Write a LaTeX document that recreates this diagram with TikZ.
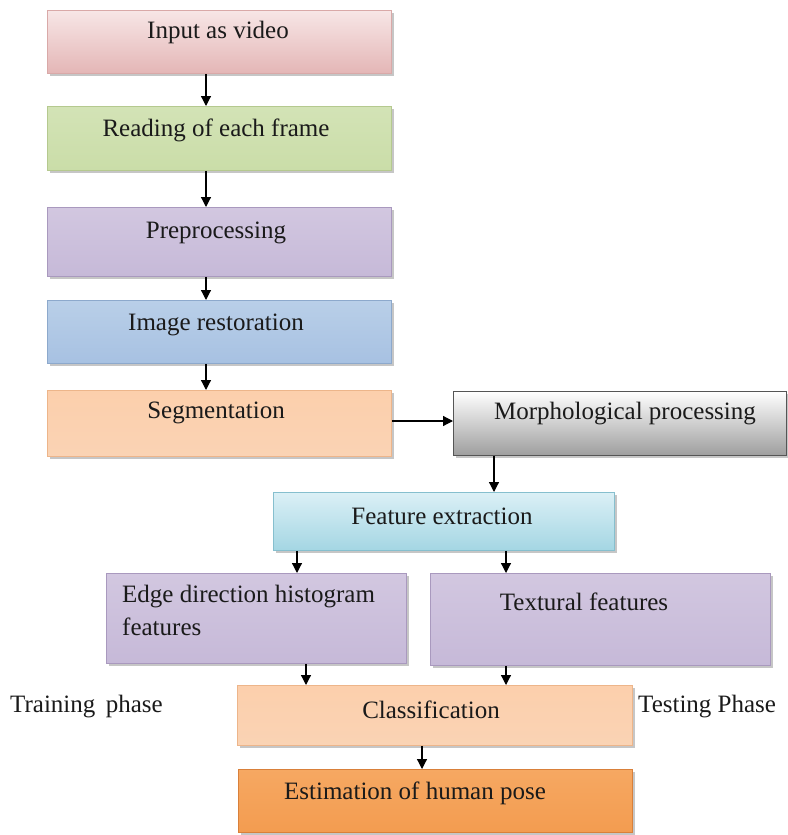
\documentclass[tikz,border=0pt]{standalone}
\usepackage{fontspec}
\setmainfont{Liberation Serif}
\newfontfamily\boxfont{Liberation Serif}
\usetikzlibrary{shadows,arrows.meta,calc}
\definecolor{pinkA}{HTML}{F7E6E6}\definecolor{pinkB}{HTML}{E4B6B6}\definecolor{pinkD}{HTML}{D9A9A8}
\definecolor{greenA}{HTML}{D3E3B6}\definecolor{greenM}{HTML}{F0F5E6}\definecolor{greenB}{HTML}{CADDA8}\definecolor{greenD}{HTML}{B5C98F}
\definecolor{purA}{HTML}{D2C7E0}\definecolor{purM}{HTML}{F1EDF6}\definecolor{purB}{HTML}{C6B9D8}\definecolor{purD}{HTML}{A999BE}
\definecolor{bluA}{HTML}{B9CFE8}\definecolor{bluM}{HTML}{E5EDF7}\definecolor{bluB}{HTML}{A7C1E2}\definecolor{bluD}{HTML}{8DA9CC}
\definecolor{orA}{HTML}{FCCFAC}\definecolor{orM}{HTML}{FEEDE0}\definecolor{orB}{HTML}{FAD3B4}\definecolor{orD}{HTML}{EDB58A}
\definecolor{grA}{HTML}{FFFFFF}\definecolor{grB}{HTML}{9E9E9E}\definecolor{grD}{HTML}{555555}
\definecolor{cyA}{HTML}{DBF0F6}\definecolor{cyM}{HTML}{E6F4F8}\definecolor{cyB}{HTML}{A4D6E3}\definecolor{cyD}{HTML}{86BFCE}
\definecolor{eoA}{HTML}{F6A862}\definecolor{eoM}{HTML}{FBD6B6}\definecolor{eoB}{HTML}{F39C50}\definecolor{eoD}{HTML}{D9803A}
\definecolor{txtc}{HTML}{1A1A1A}
\tikzset{
  box/.style={rectangle, anchor=north west, inner sep=0pt, line width=0.8bp,
    drop shadow={shadow xshift=2.5bp, shadow yshift=-3bp, fill=black!50, opacity=0.45}},
  pinkbox/.style={box, draw=pinkD, top color=pinkA, bottom color=pinkB},
  greenbox/.style={box, draw=greenD, top color=greenA, middle color=greenM, bottom color=greenB},
  purbox/.style={box, draw=purD, top color=purA, middle color=purM, bottom color=purB},
  blubox/.style={box, draw=bluD, top color=bluA, middle color=bluM, bottom color=bluB},
  orbox/.style={box, draw=orD, top color=orA, middle color=orM, bottom color=orB},
  graybox/.style={box, draw=grD, top color=grA, bottom color=grB},
  cybox/.style={box, draw=cyD, top color=cyA, middle color=cyM, bottom color=cyB},
  eobox/.style={box, draw=eoD, top color=eoA, middle color=eoM, bottom color=eoB},
  txt/.style={font=\boxfont\fontsize{25bp}{33bp}\selectfont, text=txtc, inner sep=0pt},
  arr/.style={line width=1.2bp, draw=black, -{Triangle[length=10bp,width=10bp]}},
}
\begin{document}
\begin{tikzpicture}[x=1bp,y=-1bp]
\useasboundingbox (0,0) rectangle (788,835);
% boxes
\node[pinkbox,  minimum width=344bp, minimum height=63bp] (b1) at (47,10) {};
\node[greenbox, minimum width=344bp, minimum height=64bp] (b2) at (47,106) {};
\node[purbox,   minimum width=344bp, minimum height=69bp] (b3) at (47,207) {};
\node[blubox,   minimum width=344bp, minimum height=63bp] (b4) at (47,300) {};
\node[orbox,    minimum width=344bp, minimum height=66bp] (b5) at (47,390) {};
\node[graybox,  minimum width=333bp, minimum height=64bp] (b6) at (453,391) {};
\node[cybox,    minimum width=341bp, minimum height=58bp] (b7) at (273,492) {};
\node[purbox,   minimum width=300bp, minimum height=90bp] (b8) at (106,573) {};
\node[purbox,   minimum width=340bp, minimum height=92bp] (b9) at (430,573) {};
\node[orbox,    minimum width=395bp, minimum height=60bp] (b10) at (237,685) {};
\node[eobox,    minimum width=394bp, minimum height=63bp] (b11) at (238,769) {};
% texts
\node[txt] (t1) at (218,32) {Input as video};
\node[txt] (t2) at (216,130) {Reading of each frame};
\node[txt] (t3) at (216,233) {Preprocessing};
\node[txt] (t4) at (216,325) {Image restoration};
\node[txt] (t5) at (216,413) {Segmentation};
\node[txt] (t6) at (625,414) {Morphological processing};
\node[txt] (t7) at (442,516) {Feature extraction};
\node[txt, align=left, anchor=north west] (t8) at (122,585) {Edge direction histogram\\features};
\node[txt] (t9) at (584,602) {Textural features};
\node[txt] (t10) at (431,710) {Classification};
\node[txt] (t11) at (415,793) {Estimation of human pose};
\node[txt, anchor=west] (t12) at (10,707) {Training~\,phase};
\node[txt, anchor=west] (t13) at (638,707) {Testing Phase};
% arrows
\draw[arr] (b1.south -| 206,0) -- (b2.north -| 206,0);
\draw[arr] (b2.south -| 206,0) -- (b3.north -| 206,0);
\draw[arr] (b3.south -| 206,0) -- (b4.north -| 206,0);
\draw[arr] (b4.south -| 206,0) -- (b5.north -| 206,0);
\draw[arr] (b5.east |- 0,421) -- (b6.west |- 0,421);
\draw[arr] (b6.south -| 494,0) -- (b7.north -| 494,0);
\draw[arr] (b7.south -| 297,0) -- (b8.north -| 297,0);
\draw[arr] (b7.south -| 506,0) -- (b9.north -| 506,0);
\draw[arr] (b8.south -| 306,0) -- (b10.north -| 306,0);
\draw[arr] (b9.south -| 506,0) -- (b10.north -| 506,0);
\draw[arr] (b10.south -| 422,0) -- (b11.north -| 422,0);
\end{tikzpicture}
\end{document}
